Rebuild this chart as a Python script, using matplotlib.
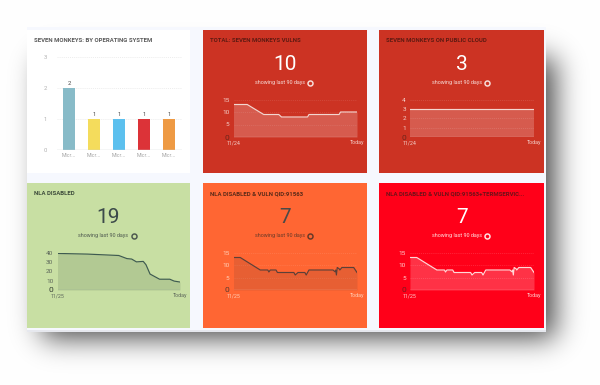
import math
import numpy as np
import matplotlib
matplotlib.use("Agg")
import matplotlib.pyplot as plt
from matplotlib.lines import Line2D
from matplotlib.patches import Rectangle

W, H = 600, 385
plt.rcParams['font.family'] = ['Roboto', 'DejaVu Sans']
TITLE_FONT = ['Liberation Sans Narrow', 'Roboto', 'DejaVu Sans']
TITLE_SIZE = 4.35

# ---- data ----
os_labels = ['Micr...', 'Micr...', 'Micr...', 'Micr...', 'Micr...']
os_values = [2, 1, 1, 1, 1]
os_colors = ['#88bbc8', '#f4dc5c', '#5cc0ee', '#dc3338', '#ee9a44']

vulns_days = [0, 10, 22, 33, 35, 54, 55, 77, 78, 90]
vulns_vals = [13, 13, 9, 9, 8, 8, 9, 9, 10, 10]

cloud_days = [0, 90]
cloud_vals = [3, 3]

nla_days = [0, 22, 45, 51, 54.5, 58, 63, 65, 68, 75, 82.5, 85.7, 90]
nla_vals = [39, 38.3, 36.8, 33.5, 33, 30, 30.5, 27, 17, 11.5, 11.5, 9.5, 8.5]

qid_days = [0, 4.9, 19.5, 25, 25.8, 26.8, 31, 32, 44, 45, 47, 52, 53, 55,
            72.5, 74, 74.5, 75, 75.6, 77, 77.5, 79, 87.6, 90]
qid_vals = [13, 13, 8, 8, 7.2, 8, 8, 7, 7, 6, 7, 7, 6, 8,
            8, 7.3, 8, 6, 9, 8.5, 8, 9, 9, 7]

term_days = qid_days
term_vals = qid_vals


def fx(x):
    return x / W


def fy(y):
    return 1 - y / H


fig = plt.figure(figsize=(W / 100, H / 100), dpi=100, facecolor='white')

# soft drop shadow behind the dashboard
erf = np.vectorize(math.erf)
xs, ys = np.arange(W) + .5, np.arange(H) + .5
sig = 14.0 * math.sqrt(2)
sx = .5 * (erf((xs - 42) / sig) - erf((xs - 555) / sig))
sy = .5 * (erf((ys - 58) / sig) - erf((ys - 338) / sig))
shade = 1 - 0.72 * np.outer(sy, sx)
fig.figimage(np.dstack([shade] * 3), 0, 0, origin='upper', zorder=0)


def add_rect(x0, y0, x1, y1, color, z=1):
    fig.add_artist(Rectangle((fx(x0), fy(y1)), (x1 - x0) / W, (y1 - y0) / H,
                             transform=fig.transFigure, facecolor=color,
                             edgecolor='none', zorder=z))


add_rect(27, 27, 546, 331.5, '#e6e8ee', 1)
add_rect(27, 27, 545.5, 330, '#f6f8fe', 1)


def make_axes(x0, x1, ytop, ybot):
    ax = fig.add_axes([fx(x0), fy(ybot), (x1 - x0) / W, (ybot - ytop) / H])
    ax.patch.set_alpha(0)
    ax.set_zorder(3)
    for s in ax.spines.values():
        s.set_visible(False)
    ax.tick_params(length=0)
    return ax


def trend_panel(box, bg, title, title_col, number, num_col, sub_col, days, vals,
                yticks, line_col, fill_col, tick_col, zero_col, start, grid_col, base_col):
    x0, y0, x1, y1 = box
    add_rect(x0, y0, x1, y1, bg, 2)
    fig.text(fx(x0 + 7), fy(y0 + 10.5), title, family=TITLE_FONT, fontweight='bold',
             fontsize=TITLE_SIZE, color=title_col, va='center', ha='left', zorder=5)
    cx = (x0 + x1) / 2
    fig.text(fx(cx), fy(y0 + 34.5), number, fontsize=15, color=num_col,
             ha='center', va='center', zorder=5)
    fig.text(fx(cx - 5), fy(y0 + 52.5), 'showing last 90 days', fontsize=3.9,
             color=sub_col, ha='center', va='center', zorder=5)
    fig.add_artist(Line2D([fx(cx + 25)], [fy(y0 + 52.5)], marker='o', ms=3.6,
                          mfc='none', mec=sub_col, mew=1.1, ls='none',
                          transform=fig.transFigure, zorder=5))
    ax = make_axes(x0 + 30.5, x1 - 10, y0 + 69.5, y0 + 107)
    ax.fill_between(days, vals, 0, color=fill_col, lw=0, zorder=2)
    ax.plot(days, vals, color=line_col, lw=.85, zorder=3, solid_joinstyle='round')
    ax.set_xlim(0, 90)
    ax.set_ylim(0, yticks[-1])
    ax.set_yticks(yticks)
    ax.set_yticklabels([str(v) for v in yticks], fontsize=4.6, color=tick_col)
    ax.get_yticklabels()[0].set_color(zero_col)
    ax.get_yticklabels()[0].set_fontsize(6)
    ax.tick_params(axis='y', pad=3)
    ax.grid(axis='y', color=grid_col[:3], alpha=grid_col[3], lw=.5,
            ls=(0, (1.5, 1.5)), zorder=1)
    ax.axhline(0, color=base_col, lw=1.0, zorder=4)
    ax.set_xticks([0, 90])
    ax.set_xticklabels([start, 'Today'], fontsize=3.8, color=tick_col)
    ax.tick_params(axis='x', pad=2.5)
    return ax


# panel 1: bar chart
add_rect(27, 30, 190, 173, '#ffffff', 2)
fig.text(fx(33.5), fy(40.5), 'SEVEN MONKEYS: BY OPERATING SYSTEM', family=TITLE_FONT,
         fontweight='bold', fontsize=TITLE_SIZE, color='#5a5a5a', va='center', ha='left', zorder=5)
ax = make_axes(56.7, 181.7, 56.7, 150)
pos = np.arange(len(os_values))
ax.bar(pos, os_values, width=.47, color=os_colors, zorder=3)
for p, v in zip(pos, os_values):
    ax.text(p, v + .06, str(v), ha='center', va='bottom', fontsize=4.2, color='#444444')
ax.set_xlim(-.5, 4.5)
ax.set_ylim(0, 3)
ax.set_yticks([0, 1, 2, 3])
ax.set_yticklabels(['0', '1', '2', '3'], fontsize=4.2, color='#b0b0b0')
ax.tick_params(axis='y', pad=7)
ax.set_xticks(pos)
ax.set_xticklabels(os_labels, fontsize=3.8, color='#a5a5a5')
ax.tick_params(axis='x', pad=2)
ax.grid(axis='y', color='#e6e6e6', lw=.5, ls=(0, (1.5, 1.5)), zorder=1)
ax.axhline(0, color='#cfd4d6', lw=1.0, zorder=4)

RED_TITLE = '#5e1a12'
trend_panel((203, 30, 367, 173), '#cc3323', 'TOTAL: SEVEN MONKEYS VULNS', RED_TITLE, '10',
            '#ffffff', '#f6dcd8', vulns_days, vulns_vals, [0, 5, 10, 15], '#f3d6d0',
            (1, 1, 1, .2), '#f3d0ca', '#6e241a', '11/24', (1, 1, 1, .14), (1, 1, 1, .3))
trend_panel((379.5, 30, 544, 173), '#cc3323', 'SEVEN MONKEYS ON PUBLIC CLOUD', RED_TITLE, '3',
            '#ffffff', '#f6dcd8', cloud_days, cloud_vals, [0, 1, 2, 3, 4], '#f3d6d0',
            (1, 1, 1, .2), '#f3d0ca', '#6e241a', '11/24', (1, 1, 1, .18), (1, 1, 1, .3))
trend_panel((27, 183, 190, 328), '#c8dfa3', 'NLA DISABLED', '#3c4a3a', '19',
            '#3c4a4a', '#4f5a50', nla_days, nla_vals, [0, 10, 20, 30, 40], '#3e5a50',
            (.27, .36, .27, .16), '#5c665a', '#333d33', '11/25', (.55, .62, .5, 0), (.55, .62, .6, .7))
trend_panel((203, 183, 367, 328), '#ff6633', 'NLA DISABLED & VULN QID:91563', '#5a2a18', '7',
            '#4a4a48', '#6a3a28', qid_days, qid_vals, [0, 5, 10, 15], '#5c4038',
            (.3, .2, .2, .13), '#ffd0b8', '#5a3a30', '11/25', (1, 1, 1, .14), (1, 1, 1, .4))
trend_panel((379.5, 183, 544, 328), '#ff0019', 'NLA DISABLED & VULN QID:91563+TERMSERVIC...',
            '#6a1218', '7', '#ffffff', '#ffe0e0', term_days, term_vals, [0, 5, 10, 15],
            '#ffd8d8', (1, 1, 1, .2), '#ffd0d0', '#7a1820', '11/25', (1, 1, 1, .2), (1, 1, 1, .4))

fig.savefig('out.png', dpi=100)
